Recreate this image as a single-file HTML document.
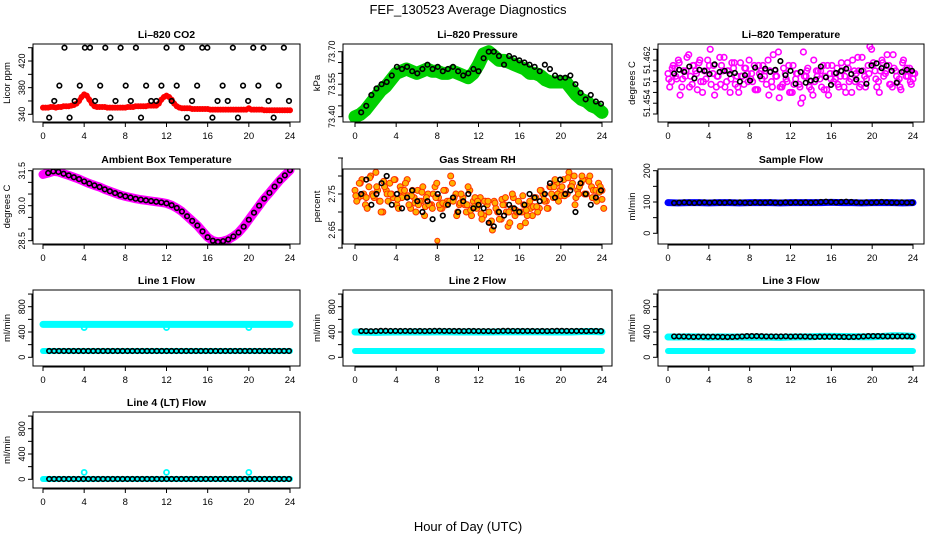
<!DOCTYPE html>
<html><head><meta charset="utf-8">
<style>
html,body{margin:0;padding:0;background:#fff;}
svg{display:block;font-family:"Liberation Sans",sans-serif;}
</style></head>
<body>
<svg id="fig" width="936" height="540" viewBox="0 0 936 540" xmlns="http://www.w3.org/2000/svg">
<rect width="936" height="540" fill="#fff"/>
<text x="468" y="14" text-anchor="middle" font-size="13">FEF_130523  Average Diagnostics</text>
<text x="468" y="531" text-anchor="middle" font-size="13">Hour of Day (UTC)</text>
</svg>
<script>
// ---- data ----
const co2Red = [350,350,350,351,351,350,351,351,352,352,352,353,354,356,360,366,370,368,362,356,352,351,351,351,351,350,350,350,350,350,350,350,350,351,351,351,352,352,352,352,352,353,353,353,353,356,362,366,368,366,362,356,352,350,349,349,349,349,348,348,348,348,348,348,348,347,347,347,347,347,347,347,347,347,347,347,347,347,347,347,349,347,347,347,347,347,346,346,346,346,346,346,346,346,346,346,346];
const co2Black = [335,360,383,440,335,360,383,440,440,360,383,440,335,360,440,383,360,440,335,383,360,360,383,440,360,383,440,335,360,383,440,440,335,360,383,360,440,335,383,360,440,383,440,360,335,383,440,360];
const presGreen = [73.40,73.41,73.43,73.46,73.49,73.52,73.54,73.57,73.60,73.61,73.62,73.61,73.60,73.61,73.62,73.61,73.61,73.60,73.60,73.61,73.60,73.59,73.58,73.60,73.64,73.69,73.70,73.68,73.66,73.66,73.65,73.64,73.63,73.62,73.60,73.60,73.59,73.57,73.56,73.56,73.56,73.56,73.53,73.50,73.48,73.47,73.45,73.44,73.42];
const presBlack = [73.42,73.45,73.50,73.53,73.55,73.56,73.59,73.63,73.62,73.63,73.61,73.60,73.62,73.64,73.62,73.63,73.61,73.62,73.63,73.61,73.59,73.60,73.62,73.61,73.67,73.70,73.70,73.68,73.64,73.68,73.67,73.66,73.65,73.64,73.63,73.61,73.64,73.62,73.59,73.58,73.58,73.59,73.55,73.51,73.48,73.50,73.47,73.46];
const tempA = [51.4595,51.4580,51.4605,51.4620,51.4570,51.4590,51.4630,51.4575,51.4600,51.4615,51.4560,51.4585,51.4610,51.4595,51.4570,51.4625,51.4600,51.4580,51.4560,51.4605,51.4590,51.4615,51.4575,51.4595,51.4585,51.4610,51.4565,51.4600,51.4590,51.4620,51.4580,51.4600,51.4635,51.4570,51.4595,51.4610,51.4560,51.4585,51.4575,51.4550,51.4590,51.4570,51.4555,51.4600,51.4585,51.4610,51.4565,51.4595,51.4580,51.4605,51.4590,51.4570,51.4615,51.4585,51.4600,51.4625,51.4575,51.4590,51.4610,51.4640,51.4600,51.4580,51.4620,51.4595,51.4610,51.4570,51.4600,51.4585,51.4615,51.4590,51.4605,51.4585];
const tempB = [51.4570,51.4610,51.4585,51.4555,51.4600,51.4625,51.4590,51.4610,51.4565,51.4580,51.4600,51.4620,51.4575,51.4555,51.4590,51.4610,51.4570,51.4600,51.4615,51.4575,51.4560,51.4590,51.4605,51.4620,51.4580,51.4565,51.4595,51.4610,51.4575,51.4600,51.4630,51.4590,51.4570,51.4605,51.4580,51.4560,51.4575,51.4595,51.4540,51.4590,51.4605,51.4565,51.4580,51.4600,51.4570,51.4590,51.4555,51.4610,51.4585,51.4570,51.4600,51.4560,51.4580,51.4620,51.4595,51.4570,51.4600,51.4585,51.4645,51.4615,51.4570,51.4600,51.4590,51.4630,51.4575,51.4605,51.4580,51.4565,51.4600,51.4590,51.4575,51.4595];
const tempBlack = [51.4595,51.4602,51.4598,51.4608,51.4586,51.4602,51.4600,51.4594,51.4612,51.4598,51.4600,51.4594,51.4596,51.4580,51.4592,51.4582,51.4606,51.4590,51.4604,51.4598,51.4602,51.4618,51.4592,51.4600,51.4576,51.4598,51.4578,51.4582,51.4584,51.4608,51.4588,51.4574,51.4596,51.4600,51.4604,51.4594,51.4584,51.4600,51.4576,51.4610,51.4614,51.4605,51.4610,51.4600,51.4578,51.4598,51.4602,51.4600];
const ambient = [31.34,31.40,31.47,31.45,31.37,31.30,31.22,31.14,31.04,30.95,30.87,30.80,30.70,30.62,30.54,30.46,30.40,30.35,30.30,30.26,30.23,30.20,30.17,30.14,30.10,30.02,29.90,29.75,29.55,29.35,29.15,28.90,28.65,28.50,28.45,28.48,28.55,28.68,28.85,29.10,29.40,29.70,30.00,30.30,30.55,30.82,31.08,31.30,31.52];
const rhA = [2.76,2.74,2.79,2.72,2.77,2.75,2.81,2.73,2.70,2.76,2.78,2.74,2.72,2.77,2.75,2.79,2.71,2.74,2.76,2.73,2.69,2.75,2.72,2.77,2.74,2.71,2.76,2.73,2.78,2.75,2.72,2.74,2.70,2.76,2.73,2.71,2.74,2.69,2.72,2.67,2.73,2.70,2.68,2.72,2.66,2.71,2.69,2.73,2.70,2.67,2.72,2.69,2.74,2.71,2.75,2.73,2.77,2.74,2.78,2.76,2.79,2.75,2.77,2.80,2.76,2.78,2.75,2.79,2.77,2.74,2.78,2.76];
const rhB = [2.73,2.78,2.75,2.71,2.80,2.74,2.76,2.70,2.77,2.73,2.75,2.79,2.71,2.74,2.78,2.72,2.76,2.70,2.73,2.77,2.74,2.72,2.75,2.78,2.71,2.76,2.73,2.80,2.74,2.70,2.75,2.72,2.77,2.69,2.74,2.72,2.68,2.73,2.70,2.65,2.71,2.68,2.72,2.70,2.67,2.74,2.70,2.66,2.72,2.69,2.71,2.74,2.70,2.76,2.73,2.71,2.75,2.79,2.73,2.77,2.75,2.81,2.78,2.74,2.77,2.79,2.75,2.80,2.76,2.73,2.77,2.71];
const rhBlack = [2.75,2.79,2.72,2.75,2.78,2.80,2.72,2.75,2.71,2.74,2.76,2.73,2.70,2.73,2.68,2.75,2.69,2.72,2.74,2.70,2.73,2.75,2.71,2.72,2.71,2.67,2.66,2.70,2.69,2.72,2.71,2.70,2.72,2.75,2.74,2.73,2.75,2.78,2.74,2.79,2.75,2.76,2.70,2.78,2.75,2.72,2.74,2.76];
const sampleBlue = [98,97,98,98,97,98,98,97,98,98,98,97,98,98,98,98,99,98,98,97,98,98,98,97,98];
const sampleBlack = [97,98,99,98,97,98,99,98,99,98,98,99,98,99,98,97,99,98,98,99,98,98,99,98,99,98,99,98,99,100,101,100,99,100,101,100,99,98,99,98,99,100,99,98,98,99,98,98];
const line1Cyan = [520,520,520,521,520,520,521,520,520,520,521,520,520,520,520,521,520,520,520,520,521,520,520,520,520];
const line1CyanLo = [100,100,100,100,100,100,100,100,100,100,100,100,100,100,100,100,100,100,100,100,100,100,100,100,100];
const line1Black = [100,100,100,100,100,100,100,100,100,100,100,100,100,100,100,100,100,100,100,100,100,100,100,100,100];
const line2CyanHi = [400,398,395,398,400,400,402,400,402,402,400,402,400,400,402,402,404,402,402,400,402,400,405,408,402];
const line2CyanLo = [100,100,100,100,100,100,100,100,100,100,100,100,100,100,100,100,100,100,100,100,100,100,100,100,100];
const line2Black = [415,415,413,415,418,418,417,417,416,417,416,415,416,415,417,418,418,417,417,416,416,415,417,416,415];
const line3CyanHi = [320,320,325,322,318,322,320,320,318,320,318,315,320,322,325,330,330,328,326,325,325,330,340,338,330];
const line3CyanLo = [100,100,100,100,100,100,100,100,100,100,100,100,100,100,100,100,100,100,100,100,100,100,100,100,100];
const line3Black = [330,330,328,325,322,325,325,325,325,323,322,320,322,325,330,335,335,335,333,330,330,330,330,332,328];
const line4Cyan = [5,5,5,5,5,5,5,5,5,5,5,5,5,5,5,5,5,5,5,5,5,5,5,5,5];
const line4Black = [5,5,5,5,5,5,5,5,5,5,5,5,5,5,5,5,5,5,5,5,5,5,5,5,5];
const outlierHours = [4, 12, 20];
const line1Outliers = [470, 470, 470];
const line4Outliers = [110, 110, 110];
const xTicks = [0, 4, 8, 12, 16, 20, 24];

// ---- rendering ----
const NS = "http://www.w3.org/2000/svg";
const svg = document.getElementById("fig");
function mk(tag, attrs, parent) {
  const e = document.createElementNS(NS, tag);
  for (const k in attrs) e.setAttribute(k, attrs[k]);
  (parent || svg).appendChild(e);
  return e;
}
const cols = [{l:33, r:300, x0:43, x24:290}, {l:343, r:612, x0:355, x24:602}, {l:658, r:924, x0:668, x24:913}];
const rows = [{t:44, b:122}, {t:169, b:244}, {t:290, b:366}, {t:412, b:488}];
function hoursFor(arr) { return arr.map((_, i) => i * 24 / (arr.length - 1)); }
function blackHours(arr) { return arr.map((_, i) => 0.6 + i * (23.3 / (arr.length - 1))); }

function panel(name, title, ylab, c, r, v1, p1, v2, p2, ticks, labels) {
  const C = cols[c], R = rows[r];
  const g = mk("g", {});
  
  
  const xs = h => C.x0 + (C.x24 - C.x0) * h / 24;
  const ys = v => p1 + (p2 - p1) * (v - v1) / (v2 - v1);
  const t = mk("text", {x:(C.l + C.r) / 2, y:R.t - 6, "text-anchor":"middle", "font-size":"10.5", "font-weight":"bold"}, g);
  t.textContent = title;
  
  
  const yl = mk("text", {transform:`translate(${C.l - 23},${(R.t + R.b) / 2}) rotate(-90)`, "text-anchor":"middle", "font-size":"9.5"}, g);
  yl.textContent = ylab;
  
  
  const plot = mk("g", {}, g);
  
  
  const xa = mk("g", {}, g);
  
  
  mk("line", {x1:xs(0), x2:xs(24), y1:R.b + 1, y2:R.b + 1, stroke:"#000"}, xa);
  xTicks.forEach(h => {
    mk("line", {x1:xs(h), x2:xs(h), y1:R.b, y2:R.b + 5, stroke:"#000"}, xa);
    const tl = mk("text", {x:xs(h), y:R.b + 17, "text-anchor":"middle", "font-size":"9.5"}, xa);
    tl.textContent = String(h);
    
    
  });
  const ya = mk("g", {}, g);
  
  
  mk("line", {x1:C.l - 1, x2:C.l - 1, y1:ys(ticks[0]), y2:ys(ticks[ticks.length - 1]), stroke:"#000"}, ya);
  ticks.forEach(v => mk("line", {x1:C.l - 5, x2:C.l, y1:ys(v), y2:ys(v), stroke:"#000"}, ya));
  labels.forEach(([v, s]) => {
    const tl = mk("text", {transform:`translate(${C.l - 8},${ys(v)}) rotate(-90)`, "text-anchor":"middle", "font-size":"9"}, ya);
    tl.textContent = s;
    
    
  });
  mk("rect", {x:C.l, y:R.t, width:C.r - C.l, height:R.b - R.t, fill:"none", stroke:"#000"}, g);
  const clipId = "clip" + name;
  const cp = mk("clipPath", {id:clipId}, g);
  mk("rect", {x:C.l, y:R.t, width:C.r - C.l, height:R.b - R.t}, cp);
  plot.setAttribute("clip-path", `url(#${clipId})`);
  return {xs, ys, plot};
}
function band(P, hrs, vals, color, w, name) {
  const pl = mk("polyline", {points: hrs.map((h, i) => P.xs(h) + "," + P.ys(vals[i])).join(" "), fill:"none", stroke:color, "stroke-width":w, "stroke-linejoin":"round", "stroke-linecap":"round"}, P.plot);
  
  
}
function pts(P, hrs, vals, color, rad, sw, name, fill) {
  const g = mk("g", {}, P.plot);
  
  
  vals.forEach((v, i) => mk("circle", {cx:P.xs(hrs[i]), cy:P.ys(v), r:rad, fill:fill || "none", stroke:color, "stroke-width":sw}, g));
}
function rng(a, b, s) { const o = []; for (let v = a; v <= b + 1e-9; v += s) o.push(+v.toFixed(4)); return o; }

let P = panel("co2", "Li\u2013820 CO2", "Licor ppm", 0, 0, 440, 47.7, 340, 114.3, rng(340, 440, 20), [[340,"340"],[380,"380"],[420,"420"]]);
band(P, hoursFor(co2Red), co2Red, "#ff0000", 5, "co2-red-series");
pts(P, hoursFor(co2Red), co2Red, "#ff0000", 2.3, 1.4, "co2-red-points");
pts(P, blackHours(co2Black), co2Black, "#000", 2.3, 1.6, "co2-black-points");

P = panel("pressure", "Li\u2013820 Pressure", "kPa", 1, 0, 73.70, 51.7, 73.40, 116.7, rng(73.40, 73.70, 0.05), [[73.40,"73.40"],[73.55,"73.55"],[73.70,"73.70"]]);
band(P, hoursFor(presGreen), presGreen, "#00d000", 13, "pressure-green-series");
pts(P, blackHours(presBlack), presBlack, "#000", 2.3, 1.6, "pressure-black-points");

P = panel("temperature", "Li\u2013820 Temperature", "degrees C", 2, 0, 51.464, 49.3, 51.452, 114, rng(51.452, 51.464, 0.002), [[51.454,"51.454"],[51.458,"51"],[51.462,"51.462"]]);
pts(P, hoursFor(tempA), tempA, "#ff00ff", 2.8, 1.6, "temperature-magenta-points-a");
pts(P, hoursFor(tempB).map(h => h + 0.17), tempB, "#ff00ff", 2.8, 1.6, "temperature-magenta-points-b");
pts(P, hoursFor(tempB).map(h => Math.min(24, h + 0.08)), tempA.slice().reverse(), "#ff00ff", 2.8, 1.6, "temperature-magenta-points-c");
pts(P, blackHours(tempBlack), tempBlack, "#000", 2.3, 1.6, "temperature-black-points");

P = panel("ambient", "Ambient Box Temperature", "degrees C", 0, 1, 31.5, 170.7, 28.5, 240.7, rng(28.5, 31.5, 0.5), [[28.5,"28.5"],[30.0,"30.0"],[31.5,"31.5"]]);
band(P, hoursFor(ambient), ambient, "#ff00ff", 9, "ambient-magenta-series");
pts(P, hoursFor(ambient).slice(1), ambient.slice(1), "#000", 2.3, 1.6, "ambient-black-points");

P = panel("rh", "Gas Stream RH", "percent", 1, 1, 2.80, 176, 2.65, 230, rng(2.60, 2.85, 0.05), [[2.65,"2.65"],[2.75,"2.75"]]);
pts(P, hoursFor(rhA), rhA, "#ff3000", 3, 1, "rh-red-points-a", "#ffb000");
pts(P, hoursFor(rhB).map(h => h + 0.17), rhB, "#ff3000", 3, 1, "rh-red-points-b", "#ffb000");
pts(P, hoursFor(rhB).map(h => Math.min(24, h + 0.08)), rhA.slice().reverse().map((v, i) => rhB[i] * 0.5 + v * 0.5), "#ff3000", 3, 1, "rh-red-points-c", "#ffb000");
pts(P, [8], [2.62], "#ff3000", 2.5, 1, "rh-outlier-point", "#ffb000");
pts(P, blackHours(rhBlack), rhBlack, "#000", 2.3, 1.6, "rh-black-points");

P = panel("sample-flow", "Sample Flow", "ml/min", 2, 1, 0, 233.3, 200, 170.7, rng(0, 200, 50), [[0,"0"],[100,"100"],[200,"200"]]);
band(P, hoursFor(sampleBlue), sampleBlue, "#0000ff", 7, "sample-flow-blue-series");
pts(P, blackHours(sampleBlack), sampleBlack, "#000", 2.3, 1.6, "sample-flow-black-points");

const flowTicks = rng(0, 1000, 200), flowLabels = [[0,"0"],[400,"400"],[800,"800"]];
P = panel("line1", "Line 1 Flow", "ml/min", 0, 2, 0, 357.3, 800, 306.7, flowTicks, flowLabels);
band(P, hoursFor(line1Cyan), line1Cyan, "#00ffff", 7, "line1-cyan-high-series");
band(P, hoursFor(line1CyanLo), line1CyanLo, "#00ffff", 6, "line1-cyan-low-series");
pts(P, outlierHours, line1Outliers, "#00ffff", 2.5, 1.8, "line1-cyan-outliers");
pts(P, blackHours(line1Black.concat(line1Black)), line1Black.concat(line1Black), "#000", 2.3, 1.6, "line1-black-points");
P = panel("line2", "Line 2 Flow", "ml/min", 1, 2, 0, 357.3, 800, 306.7, flowTicks, flowLabels);
band(P, hoursFor(line2CyanHi), line2CyanHi, "#00ffff", 7, "line2-cyan-high-series");
band(P, hoursFor(line2CyanLo), line2CyanLo, "#00ffff", 6, "line2-cyan-low-series");
pts(P, blackHours(line2Black.concat(line2Black)), line2Black.concat(line2Black), "#000", 2.3, 1.6, "line2-black-points");
P = panel("line3", "Line 3 Flow", "ml/min", 2, 2, 0, 357.3, 800, 306.7, flowTicks, flowLabels);
band(P, hoursFor(line3CyanHi), line3CyanHi, "#00ffff", 7, "line3-cyan-high-series");
band(P, hoursFor(line3CyanLo), line3CyanLo, "#00ffff", 6, "line3-cyan-low-series");
pts(P, blackHours(line3Black.concat(line3Black)), line3Black.concat(line3Black), "#000", 2.3, 1.6, "line3-black-points");
P = panel("line4", "Line 4 (LT) Flow", "ml/min", 0, 3, 0, 479.3, 800, 428.7, flowTicks, flowLabels);
band(P, hoursFor(line4Cyan), line4Cyan, "#00ffff", 6, "line4-cyan-series");
pts(P, outlierHours, line4Outliers, "#00ffff", 2.5, 1.8, "line4-cyan-outliers");
pts(P, blackHours(line4Black.concat(line4Black)), line4Black.concat(line4Black), "#000", 2.3, 1.6, "line4-black-points");
</script>
</body></html>
